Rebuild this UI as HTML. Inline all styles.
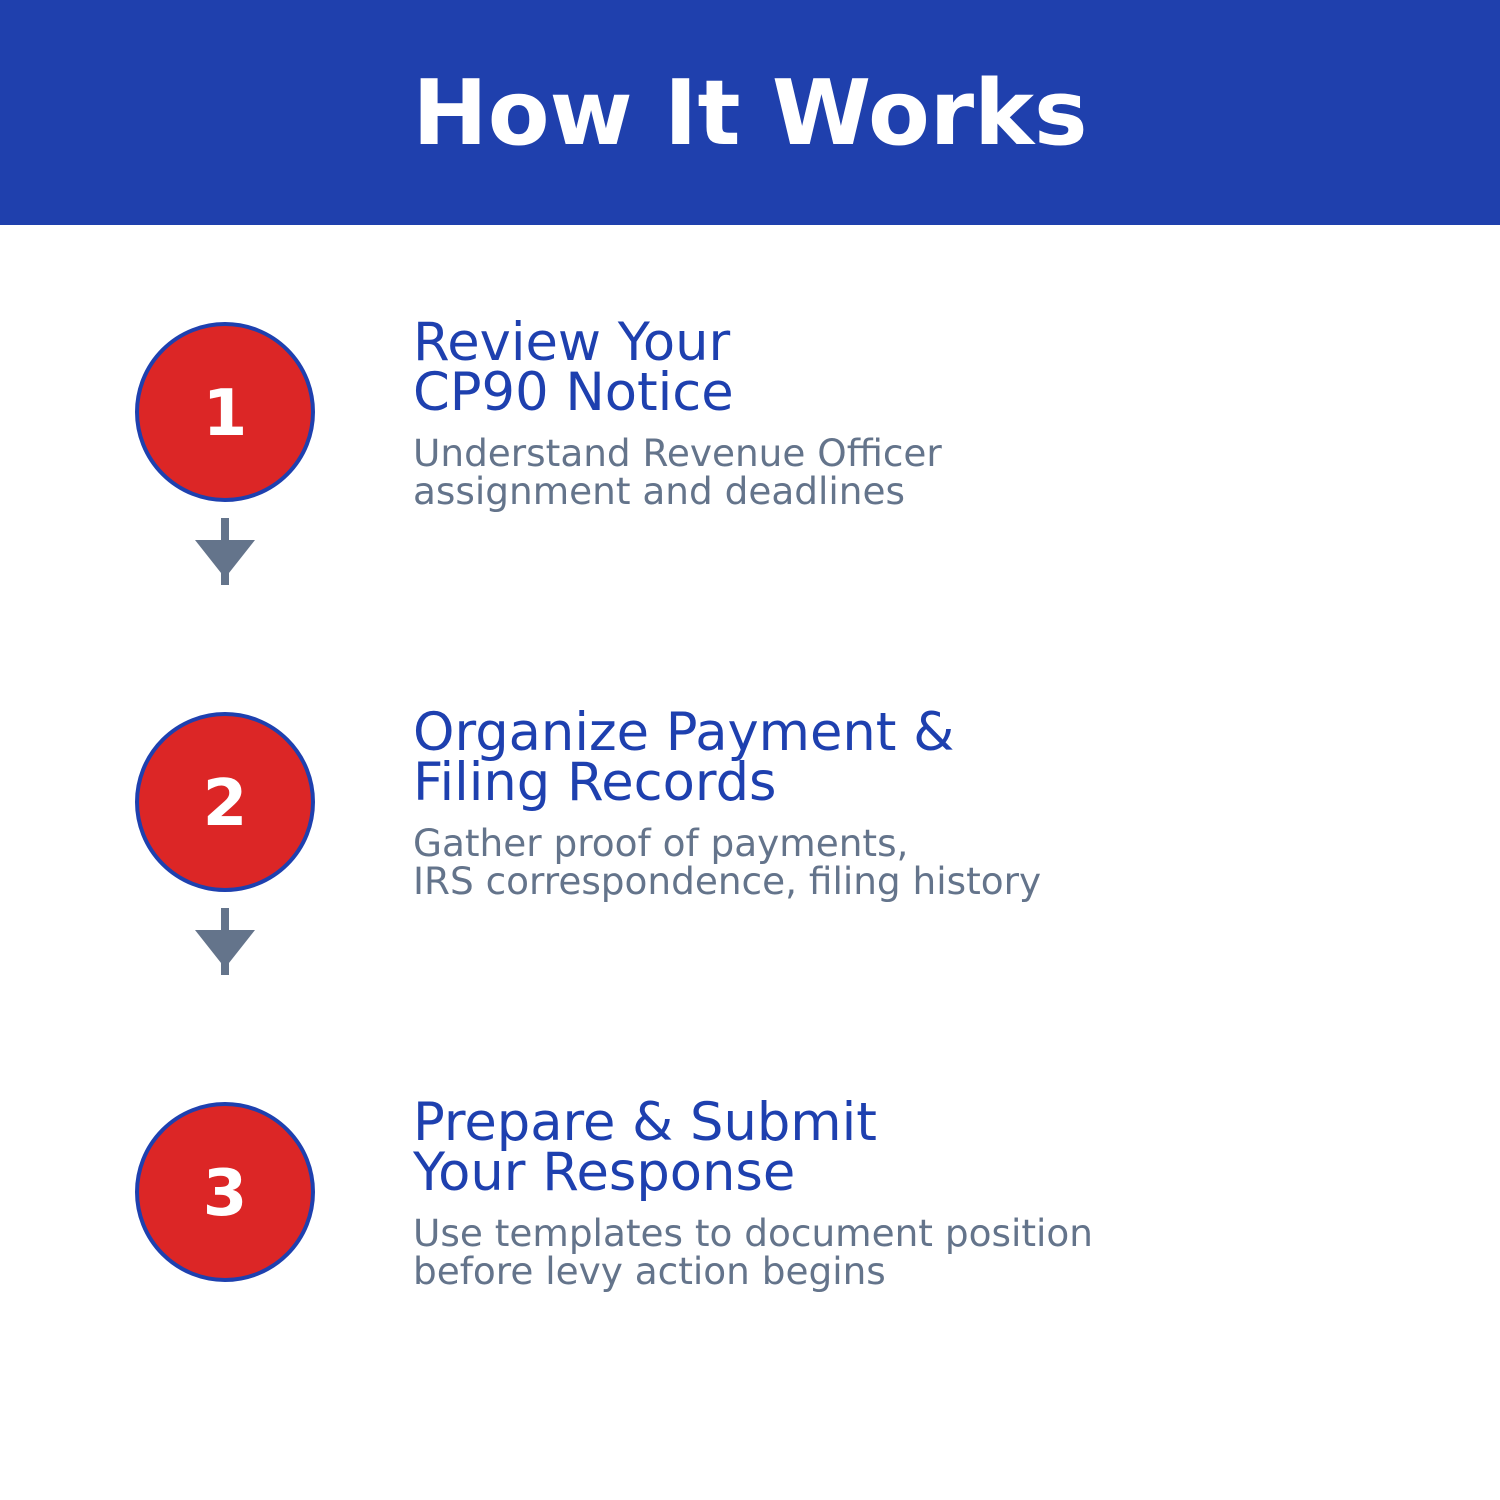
<!DOCTYPE html>
<html><head><meta charset="utf-8"><style>
html,body{margin:0;padding:0;background:#fff;}
svg{display:block;}
text{font-family:"DejaVu Sans","Liberation Sans",sans-serif;}
</style></head><body>
<svg width="1500" height="1500" viewBox="0 0 1500 1500" xmlns="http://www.w3.org/2000/svg">
<rect x="0" y="0" width="1500" height="225" fill="#1f40ad"/>
<text x="750" y="144" text-anchor="middle" font-size="90" font-weight="bold" fill="#fff">How It Works</text>

<g>
<circle cx="225" cy="412" r="88" fill="#dc2626" stroke="#1e40af" stroke-width="4"/>
<text x="225" y="435" text-anchor="middle" font-size="64" font-weight="bold" fill="#fff">1</text>
<rect x="221" y="518" width="8" height="67" fill="#64748b"/>
<polygon points="195,540 255,540 225,578" fill="#64748b"/>
<text x="413" y="360" font-size="52.7" fill="#1e40af">Review Your</text>
<text x="413" y="410" font-size="52.7" fill="#1e40af">CP90 Notice</text>
<text x="413" y="466" font-size="37.4" fill="#64748b">Understand Revenue Officer</text>
<text x="413" y="504" font-size="37.4" fill="#64748b">assignment and deadlines</text>
</g>

<g>
<circle cx="225" cy="802" r="88" fill="#dc2626" stroke="#1e40af" stroke-width="4"/>
<text x="225" y="825" text-anchor="middle" font-size="64" font-weight="bold" fill="#fff">2</text>
<rect x="221" y="908" width="8" height="67" fill="#64748b"/>
<polygon points="195,930 255,930 225,968" fill="#64748b"/>
<text x="413" y="750" font-size="52.7" fill="#1e40af">Organize Payment &amp;</text>
<text x="413" y="800" font-size="52.7" fill="#1e40af">Filing Records</text>
<text x="413" y="856" font-size="37.4" fill="#64748b">Gather proof of payments,</text>
<text x="413" y="894" font-size="37.4" fill="#64748b">IRS correspondence, filing history</text>
</g>

<g>
<circle cx="225" cy="1192" r="88" fill="#dc2626" stroke="#1e40af" stroke-width="4"/>
<text x="225" y="1215" text-anchor="middle" font-size="64" font-weight="bold" fill="#fff">3</text>
<text x="413" y="1140" font-size="52.7" fill="#1e40af">Prepare &amp; Submit</text>
<text x="413" y="1190" font-size="52.7" fill="#1e40af">Your Response</text>
<text x="413" y="1246" font-size="37.4" fill="#64748b">Use templates to document position</text>
<text x="413" y="1284" font-size="37.4" fill="#64748b">before levy action begins</text>
</g>
</svg>
</body></html>
